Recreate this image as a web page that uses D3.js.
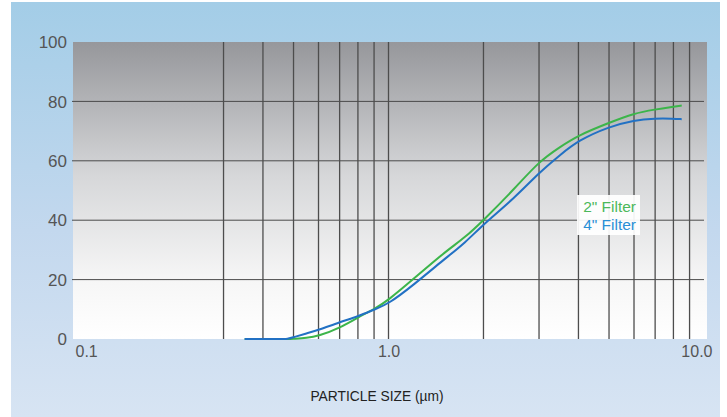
<!DOCTYPE html>
<html>
<head>
<meta charset="utf-8">
<script src="https://cdn.jsdelivr.net/npm/d3@7"></script>
<style>
  html, body { margin: 0; padding: 0; background: #ffffff; }
  svg { display: block; }
  text { font-family: "Liberation Sans", Arial, sans-serif; }
</style>
</head>
<body>
<svg id="chart" width="727" height="417"></svg>
<script>
// ---- data ----
const particleSizes = [0.35, 0.4, 0.45, 0.48, 0.5, 0.55, 0.6, 0.7, 0.8, 0.9, 1.0, 1.2, 1.5, 1.75, 2.0, 2.5, 3.0, 3.5, 4.0, 5.0, 6.0, 7.0, 8.0, 8.5];
const filter2in = [0, 0, 0, 0, 0.1, 0.3, 1.0, 3.7, 7.3, 10.0, 13.1, 20.2, 29.1, 34.2, 40.0, 50.4, 59.8, 64.7, 68.6, 72.8, 76.0, 77.3, 78.2, 78.6];
const filter4in = [0, 0, 0, 0, 0.6, 1.9, 3.0, 5.7, 7.6, 9.9, 11.8, 18.2, 26.8, 32.4, 38.7, 47.3, 56.0, 62.0, 66.9, 71.5, 73.7, 74.3, 74.2, 74.0];
const seriesNames = ['2" Filter', '4" Filter'];
const yTickValues = [0, 20, 40, 60, 80, 100];
const xTickValues = [0.1, 1, 10];
const xTickLabels = ["0.1", "1.0", "10.0"];
const xGridValues = [0.3, 0.4, 0.5, 0.6, 0.7, 0.8, 0.9, 1.0, 2, 3, 4, 5, 6, 7, 8, 9];
const xAxisTitle = "PARTICLE SIZE (\u00b5m)";

// ---- layout ----
const svg = d3.select("#chart");
const plot = { left: 73, right: 707, top: 42, bottom: 339 };
const x = d3.scaleLog().domain([0.1, 10]).range([73, 704]);
const y = d3.scaleLinear().domain([0, 100]).range([plot.bottom, plot.top]);

const defs = svg.append("defs");
const bgGrad = defs.append("linearGradient").attr("id", "bgGrad").attr("x1", 0).attr("y1", 0).attr("x2", 0).attr("y2", 1);
bgGrad.append("stop").attr("offset", "0%").attr("stop-color", "#a3cde7");
bgGrad.append("stop").attr("offset", "55%").attr("stop-color", "#c3d8ee");
bgGrad.append("stop").attr("offset", "100%").attr("stop-color", "#d7e4f3");
const plotGrad = defs.append("linearGradient").attr("id", "plotGrad").attr("x1", 0).attr("y1", 0).attr("x2", 0).attr("y2", 1);
plotGrad.append("stop").attr("offset", "0%").attr("stop-color", "#96979b");
plotGrad.append("stop").attr("offset", "45%").attr("stop-color", "#d6d7d9");
plotGrad.append("stop").attr("offset", "80%").attr("stop-color", "#f6f6f6");
plotGrad.append("stop").attr("offset", "100%").attr("stop-color", "#ffffff");

// outer background
svg.append("rect").attr("x", 11).attr("y", 2).attr("width", 709).attr("height", 415).attr("fill", "url(#bgGrad)");
// plot background
svg.append("rect")
  .attr("x", plot.left).attr("y", plot.top)
  .attr("width", plot.right - plot.left).attr("height", plot.bottom - plot.top)
  .attr("fill", "url(#plotGrad)");

// horizontal grid
svg.append("g").selectAll("line")
  .data(yTickValues.filter(v => v > 0 && v < 100))
  .join("line")
  .attr("x1", 72).attr("x2", 704)
  .attr("y1", d => y(d)).attr("y2", d => y(d))
  .attr("stroke", "#4a4a4a").attr("stroke-width", 1);

// vertical grid
svg.append("g").selectAll("line")
  .data(xGridValues)
  .join("line")
  .attr("x1", d => x(d)).attr("x2", d => x(d))
  .attr("y1", plot.top).attr("y2", plot.bottom)
  .attr("stroke", "#4d4d4d").attr("stroke-width", 1.3);

// y axis labels
const yAxis = d3.axisLeft(y).tickValues(yTickValues).tickSize(0).tickPadding(5).tickFormat(d3.format("d"));
const gy = svg.append("g").attr("transform", "translate(72,0)").call(yAxis);
gy.select(".domain").remove();
gy.selectAll("text").attr("font-size", 17).attr("fill", "#555555")
  .attr("font-family", "'Liberation Sans', Arial, sans-serif").attr("dy", "0.33em");

// x axis labels
const xAxis = d3.axisBottom(x).tickValues(xTickValues).tickSize(0).tickPadding(0)
  .tickFormat((d, i) => xTickLabels[i]);
const gx = svg.append("g").attr("transform", `translate(0,${plot.bottom})`).call(xAxis);
gx.select(".domain").remove();
gx.selectAll("text")
  .attr("font-size", 16).attr("fill", "#555555")
  .attr("font-family", "'Liberation Sans', Arial, sans-serif")
  .attr("y", 18).attr("dy", 0)
  .attr("text-anchor", (d, i) => i === 0 ? "start" : (i === xTickValues.length - 1 ? "end" : "middle"))
  .attr("dx", (d, i) => i === 0 ? 2 : (i === xTickValues.length - 1 ? 8 : 0));

// axis title
svg.append("text")
  .attr("x", 377).attr("y", 401)
  .attr("text-anchor", "middle")
  .attr("font-size", 13.8).attr("fill", "#222")
  .attr("font-family", "'Open Sans', sans-serif")
  .text(xAxisTitle);

// lines
const colors = ["#3cb54a", "#2271c4"];
const line = d3.line().x(d => x(d[0])).y(d => y(d[1])).curve(d3.curveBasis);
[filter2in, filter4in].forEach((vals, i) => {
  svg.append("path")
    .datum(particleSizes.map((s, j) => [s, vals[j]]))
    .attr("d", line)
    .attr("fill", "none")
    .attr("stroke", colors[i])
    .attr("stroke-width", 2);
});

// legend
const legend = svg.append("g");
legend.append("rect").attr("x", 577).attr("y", 195).attr("width", 63).attr("height", 40)
  .attr("fill", "#ffffff").attr("opacity", 0.92);
const legendColors = ["#4cb85a", "#2a8fd6"];
seriesNames.forEach((name, i) => {
  legend.append("text")
    .attr("x", 636).attr("y", 212 + i * 17.5)
    .attr("text-anchor", "end")
    .attr("font-size", 15.5)
    .attr("fill", legendColors[i])
    .text(name);
});
</script>
</body>
</html>
